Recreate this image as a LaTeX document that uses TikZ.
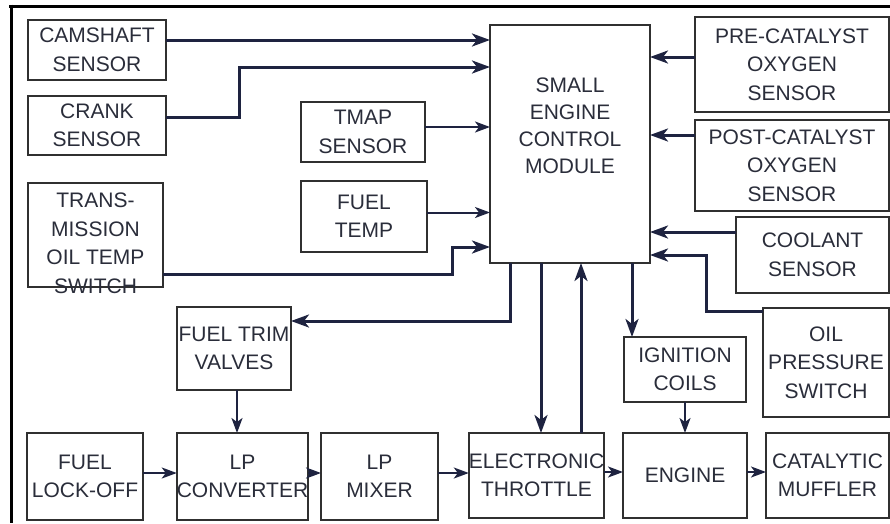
\documentclass[tikz,border=0pt]{standalone}
\usepackage{fontspec}
\setmainfont{Liberation Sans}
\usetikzlibrary{arrows.meta,positioning}
\definecolor{wire}{HTML}{1E2340}
\definecolor{boxline}{HTML}{303030}
\definecolor{labeltext}{HTML}{2A2D3A}

\begin{document}
\begin{tikzpicture}[x=1pt, y=-1pt,
  box/.style={draw=boxline, line width=1.8pt, fill=white, inner sep=0pt, outer sep=0pt, align=center, text=labeltext, font=\fontsize{21}{28.5}\selectfont},
  arr/.style={-{Stealth[length=18pt, width=13pt, inset=5pt]}, line width=3pt, color=wire},
  thinarr/.style={-{Stealth[length=15pt, width=11pt, inset=4pt]}, line width=2pt, color=wire}]
\useasboundingbox (0,0) rectangle (890,523);
% frame
\draw[line width=3pt] (9,6) -- (890,6);
\draw[line width=3pt] (11,4.5) -- (11,523);
% sensors on the left
\node[box, minimum width=138pt, minimum height=60pt] (cam) at (97,50) {CAMSHAFT\\SENSOR};
\node[box, minimum width=138pt, minimum height=59pt] (crank) at (97,125.5) {CRANK\\SENSOR};
\node[box, minimum width=135pt, minimum height=104pt] (trans) at (95.5,235) {\raisebox{-15pt}[0pt][0pt]{\begin{tabular}{@{}c@{}}TRANS-\\MISSION\\OIL TEMP\\SWITCH\end{tabular}}};
\node[box, minimum width=124pt, minimum height=60pt] (tmap) at (363,132) {TMAP\\SENSOR};
\node[box, minimum width=126pt, minimum height=71pt] (ftemp) at (364,216.5) {FUEL\\TEMP};
% control module
\node[box, minimum width=160pt, minimum height=238pt, font=\fontsize{21}{27}\selectfont] (ecm) at (570,144) {\raisebox{11pt}[0pt][0pt]{\begin{tabular}{@{}c@{}}SMALL\\ENGINE\\CONTROL\\MODULE\end{tabular}}};
% sensors on the right
\node[box, minimum width=194pt, minimum height=95pt] (pre) at (792,64.5) {PRE-CATALYST\\OXYGEN\\SENSOR};
\node[box, minimum width=194pt, minimum height=91pt] (post) at (792,165.5) {POST-CATALYST\\OXYGEN\\SENSOR};
\node[box, minimum width=153pt, minimum height=76pt] (cool) at (812.5,255) {COOLANT\\SENSOR};
\node[box, minimum width=126pt, minimum height=109pt] (oil) at (826,362.5) {OIL\\PRESSURE\\SWITCH};
% fuel and air path
\node[box, minimum width=116pt, minimum height=87pt] (lockoff) at (85,476.5) {FUEL\\LOCK-OFF};
\node[box, minimum width=131pt, minimum height=87pt] (conv) at (242.5,476.5) {LP\\CONVERTER};
\node[box, minimum width=117pt, minimum height=87pt] (mixer) at (379.5,476.5) {LP\\MIXER};
\node[box, minimum width=135pt, minimum height=85pt] (throttle) at (536.5,475.5) {ELECTRONIC\\THROTTLE};
\node[box, minimum width=124pt, minimum height=85pt] (engine) at (685,475.5) {ENGINE};
\node[box, minimum width=123pt, minimum height=85pt] (muffler) at (827.5,475.5) {CATALYTIC\\MUFFLER};
% actuators
\node[box, minimum width=114pt, minimum height=83pt] (trim) at (234,348.5) {FUEL TRIM\\VALVES};
\node[box, minimum width=122pt, minimum height=65pt, above=31pt of engine] (ign) {IGNITION\\COILS};
% inputs to the module
\draw[arr] ([yshift=10pt]cam.east) -- ([yshift=10pt]cam.east -| ecm.west);
\draw[arr] ([yshift=8pt]crank.east) -- ++(73,0) |- (ecm.west |- 0,67);
\draw[thinarr] ([yshift=5pt]tmap.east) -- ([yshift=5pt]tmap.east -| ecm.west);
\draw[thinarr] ([yshift=4pt]ftemp.east) -- ([yshift=4pt]ftemp.east -| ecm.west);
\draw[arr] ([yshift=-39pt]trans.east) -- ++(289,0) |- (ecm.west |- 0,247);
\draw[arr] ([yshift=7.5pt]pre.west) -- ([yshift=7.5pt]pre.west -| ecm.east);
\draw[arr] ([yshift=30.5pt]post.west) -- ([yshift=30.5pt]post.west -| ecm.east);
\draw[arr] ([yshift=23pt]cool.west) -- ([yshift=23pt]cool.west -| ecm.east);
\draw[arr] ([yshift=51.5pt]oil.west) -- ++(-57,0) |- (ecm.east |- 0,255);
% outputs of the module
\draw[arr] ([xshift=-60pt]ecm.south) |- ([yshift=27.5pt]trim.east);
\draw[arr] ([xshift=-29pt]ecm.south) -- ([xshift=-29pt]ecm.south |- throttle.north);
\draw[arr] ([xshift=44.5pt]throttle.north) -- ([xshift=44.5pt]throttle.north |- ecm.south);
\draw[arr] ([xshift=62pt]ecm.south) -- ([xshift=62pt]ecm.south |- ign.north);
\draw[thinarr] (ign.south) -- (ign.south |- engine.north);
\draw[thinarr] ([xshift=3pt]trim.south) -- ([xshift=3pt]trim.south |- conv.north);
% bottom row
\foreach \a/\b in {lockoff/conv, conv/mixer, mixer/throttle, throttle/engine, engine/muffler}
  \draw[thinarr] ([yshift=3.5pt]\a.east) -- ([yshift=3.5pt]\a.east -| \b.west);
\end{tikzpicture}
\end{document}
